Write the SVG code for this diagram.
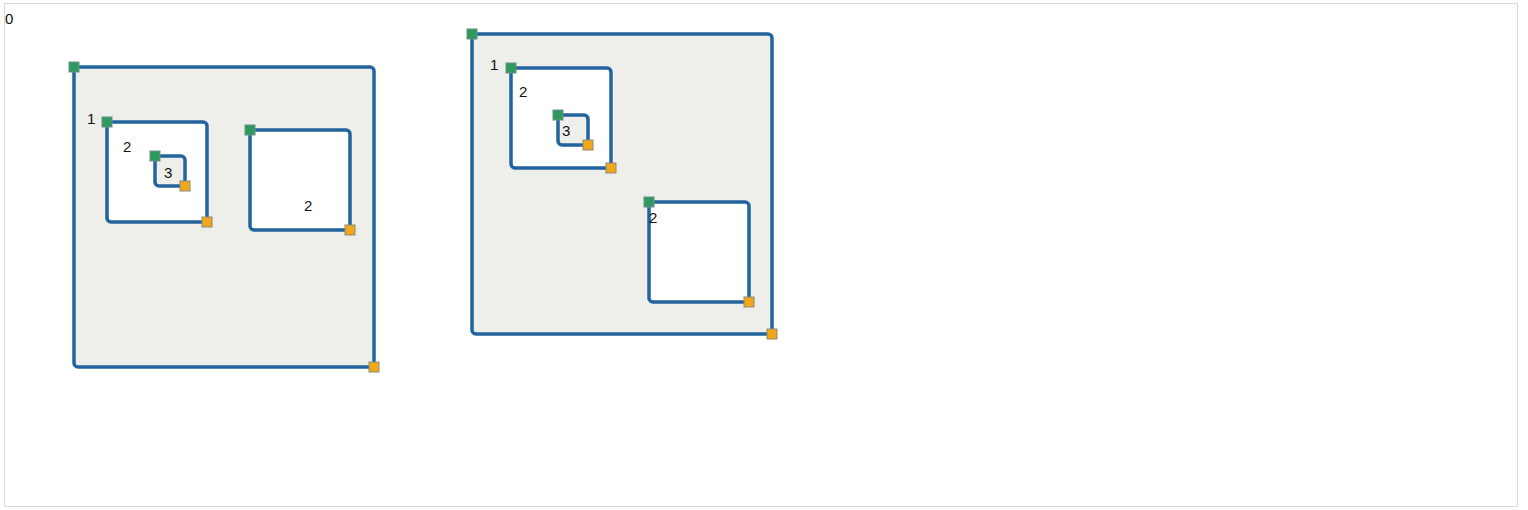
<svg xmlns="http://www.w3.org/2000/svg" width="1528" height="510" viewBox="0 0 1528 510">
<style>
.frame{fill:#fff;stroke:#d9d9d9;stroke-width:1}
.box{stroke:#22649e;stroke-width:3.5}
.g{fill:#eeeeea}
.w{fill:#fff}
.hs{fill:#2e9a5e;stroke:#6f8f8a;stroke-width:1}
.he{fill:#f2a71b;stroke:#8a8a7a;stroke-width:1}
text{font-family:"Liberation Sans",Arial,sans-serif;font-size:15px;fill:#111}
</style>
<rect class="frame" x="4.5" y="3.5" width="1513" height="503"/>
<text x="5" y="24">0</text>
<g id="connectors"/>
<g id="nodeA">
<rect class="box g" x="74" y="67" width="300" height="300" rx="4"/>
<rect class="hs" x="69" y="62" width="10" height="10"/>
<rect class="he" x="369" y="362" width="10" height="10"/>
</g>
<g id="nodeA1">
<rect class="box w" x="107" y="122" width="100" height="100" rx="4"/>
<text x="87" y="124">1</text>
<text x="123" y="152">2</text>
<rect class="hs" x="102" y="117" width="10" height="10"/>
<rect class="he" x="202" y="217" width="10" height="10"/>
</g>
<g id="nodeA1a">
<rect class="box g" x="155" y="156" width="30" height="30" rx="4"/>
<text x="164" y="178">3</text>
<rect class="hs" x="150" y="151" width="10" height="10"/>
<rect class="he" x="180" y="181" width="10" height="10"/>
</g>
<g id="nodeA2">
<rect class="box w" x="250" y="130" width="100" height="100" rx="4"/>
<text x="304" y="211">2</text>
<rect class="hs" x="245" y="125" width="10" height="10"/>
<rect class="he" x="345" y="225" width="10" height="10"/>
</g>
<g id="nodeB">
<rect class="box g" x="472" y="34" width="300" height="300" rx="4"/>
<rect class="hs" x="467" y="29" width="10" height="10"/>
<rect class="he" x="767" y="329" width="10" height="10"/>
</g>
<g id="nodeB1">
<rect class="box w" x="511" y="68" width="100" height="100" rx="4"/>
<text x="490" y="70">1</text>
<text x="519" y="97">2</text>
<rect class="hs" x="506" y="63" width="10" height="10"/>
<rect class="he" x="606" y="163" width="10" height="10"/>
</g>
<g id="nodeB1a">
<rect class="box g" x="558" y="115" width="30" height="30" rx="4"/>
<text x="562" y="136">3</text>
<rect class="hs" x="553" y="110" width="10" height="10"/>
<rect class="he" x="583" y="140" width="10" height="10"/>
</g>
<g id="nodeB2">
<rect class="box w" x="649" y="202" width="100" height="100" rx="4"/>
<text x="649" y="223">2</text>
<rect class="hs" x="644" y="197" width="10" height="10"/>
<rect class="he" x="744" y="297" width="10" height="10"/>
</g>
</svg>
